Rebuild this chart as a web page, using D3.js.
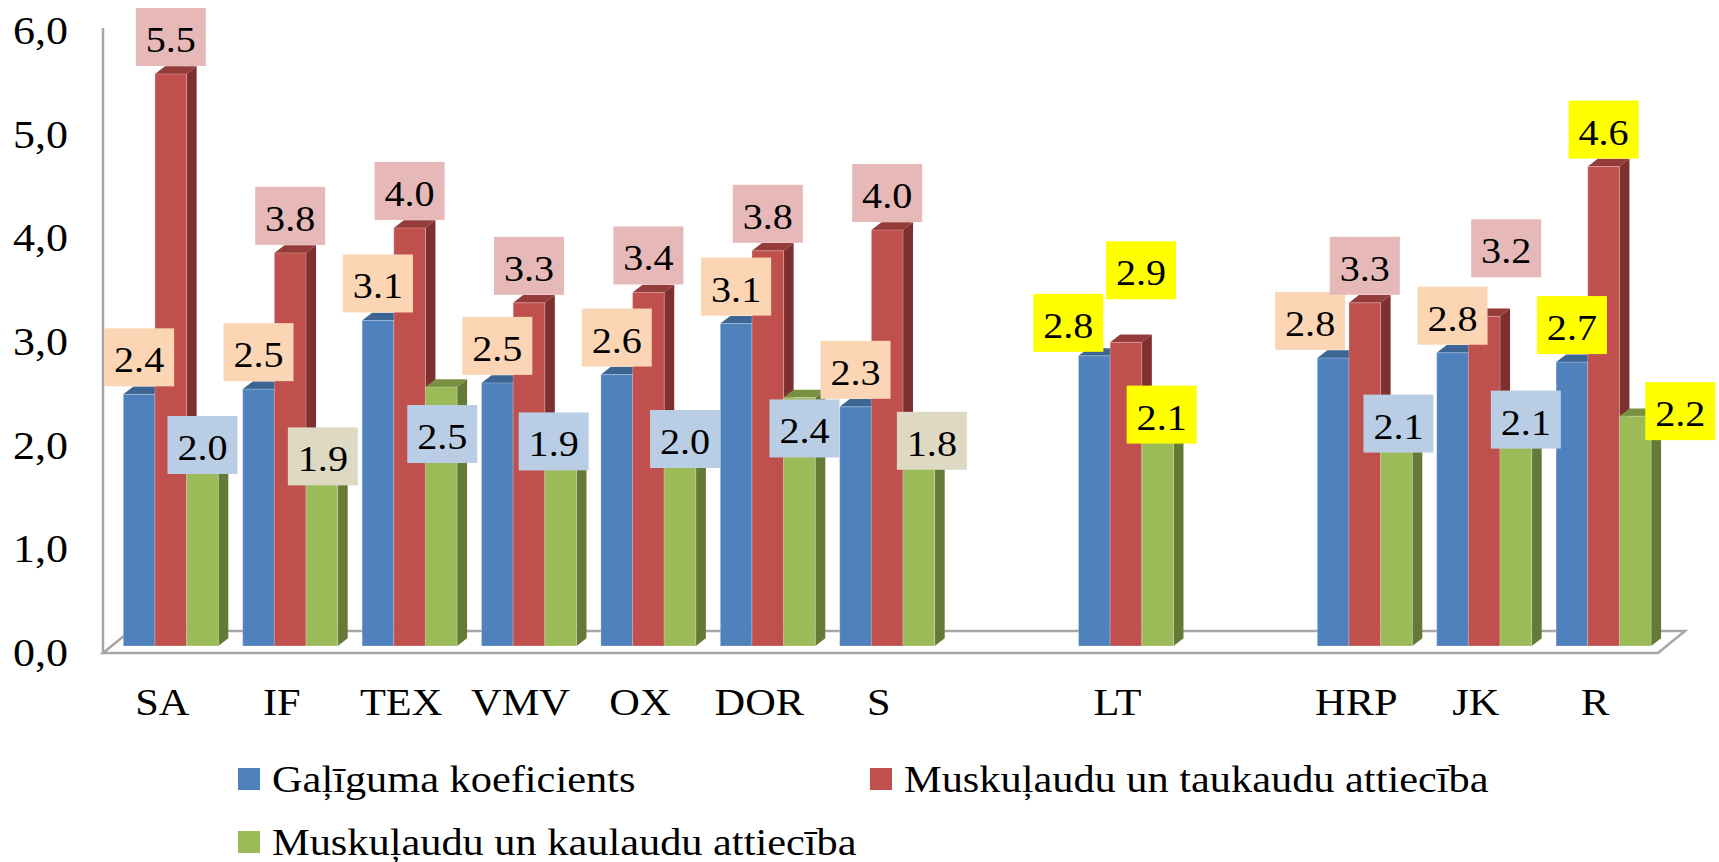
<!DOCTYPE html>
<html>
<head>
<meta charset="utf-8">
<script src="https://cdn.jsdelivr.net/npm/d3@7.9.0/dist/d3.min.js"></script>
<style>
  html, body { margin: 0; padding: 0; background: #fff; }
  svg { display: block; font-family: "Liberation Serif", "Times New Roman", serif; }
</style>
</head>
<body>
<svg id="chart" width="1719" height="862"></svg>
<script>
// categories, null = empty slot on the axis
const categories = ['SA', 'IF', 'TEX', 'VMV', 'OX', 'DOR', 'S', null, 'LT', null, 'HRP', 'JK', 'R'];

const galigums = [2.42, 2.47, 3.13, 2.53, 2.61, 3.10, 2.30, null, 2.79, null, 2.77, 2.82, 2.73];
const taukaudi = [5.50, 3.78, 4.02, 3.30, 3.40, 3.80, 4.00, null, 2.92, null, 3.30, 3.17, 4.61];
const kaulaudi = [2.00, 1.90, 2.49, 1.90, 2.00, 2.39, 1.80, null, 2.10, null, 2.10, 2.10, 2.21];

const seriesNames = [
  'Gaļīguma koeficients',
  'Muskuļaudu un taukaudu attiecība',
  'Muskuļaudu un kaulaudu attiecība'
];
const yTicks = [0, 1, 2, 3, 4, 5, 6];

const yellowCats = ['LT', 'R'];
const beigeCats = ['IF', 'S'];

// labels that were dragged away from the default spot, [dx, dy] in px
const labelNudge = [
  { LT: [-26, 4], HRP: [-23, 0] },
  { LT: [15, -35], JK: [22, -31] },
  { SA: [0, 44], IF: [1, 45], TEX: [1, 84], VMV: [-7, 30], OX: [5, 38], DOR: [5, 68],
    S: [13, 19], LT: [4, 24], HRP: [2, 33], JK: [10, 29], R: [45, 32] }
];

const faces = [
  { front: '#4F81BD', top: '#3D6593', side: '#345784' },
  { front: '#C0504D', top: '#953B39', side: '#7D302F' },
  { front: '#9BBB59', top: '#77913E', side: '#657A37' }
];
const labelFills = ['#FCD5B5', '#E6B9B8', '#B9CDE5'];

const values = [galigums, taukaudi, kaulaudi];
const svg = d3.select('#chart');
const sx = 1.1; // the original chart is stretched sideways

const x = d3.scaleBand()
  .domain(d3.range(categories.length))
  .range([111.1, 1663.3])
  .paddingInner(0.2044)
  .paddingOuter(0.1022);
const xInner = d3.scaleBand().domain([0, 1, 2]).range([0, x.bandwidth()]);
const yBar = d3.scaleLinear().domain([0, 6]).range([646, 22]);
const yAxis = d3.scaleLinear().domain([0, 6]).range([653, 31]);

const depth = [10, -7.7];
const floorDepth = [27, -22];
const floorLeft = 103, floorRight = 1658;
const gray = '#A6A6A6';

function place(sel, px, py) {
  return sel.attr('transform', `translate(${px},${py}) scale(${sx},1)`);
}

// floor and wall edge
const fy = yAxis(0);
svg.append('path')
  .attr('d', `M${floorLeft},${fy} L${floorRight},${fy} L${floorRight + floorDepth[0]},${fy + floorDepth[1]}
    L${floorLeft + floorDepth[0]},${fy + floorDepth[1]} Z`)
  .attr('fill', 'none')
  .attr('stroke', gray)
  .attr('stroke-width', 2.5);
svg.append('line')
  .attr('x1', floorLeft).attr('x2', floorLeft)
  .attr('y1', yAxis(6) - 3).attr('y2', fy)
  .attr('stroke', gray)
  .attr('stroke-width', 2.5);

// y tick labels
const fmt = d3.formatLocale({ decimal: ',', thousands: ' ', grouping: [3], currency: ['', ''] }).format('.1f');
yTicks.forEach((t) => {
  place(svg.append('text'), 68, yAxis(t) + 13)
    .attr('text-anchor', 'end')
    .attr('font-size', 40)
    .text(fmt(t));
});

// bars
const base = yBar(0);
categories.forEach((cat, i) => {
  if (cat === null) return;
  values.forEach((vals, s) => {
    const v = vals[i];
    const x0 = x(i) + xInner(s);
    const w = xInner.bandwidth();
    const yt = yBar(v);
    const [dx, dy] = depth;
    const g = svg.append('g');
    g.append('path')
      .attr('d', `M${x0 + w},${yt} L${x0 + w + dx},${yt + dy} L${x0 + w + dx},${base + dy} L${x0 + w},${base} Z`)
      .attr('fill', faces[s].side);
    g.append('path')
      .attr('d', `M${x0},${yt} L${x0 + w},${yt} L${x0 + w + dx},${yt + dy} L${x0 + dx},${yt + dy} Z`)
      .attr('fill', faces[s].top);
    g.append('rect')
      .attr('x', x0).attr('y', yt)
      .attr('width', w).attr('height', base - yt)
      .attr('fill', faces[s].front)
      .attr('stroke', 'rgba(255,255,255,0.25)')
      .attr('stroke-width', 1);
  });
});

// category labels
categories.forEach((cat, i) => {
  if (cat === null) return;
  place(svg.append('text'), x(i) + x.bandwidth() / 2 - 8.5, 715)
    .attr('text-anchor', 'middle')
    .attr('font-size', 38.5)
    .text(cat);
});

// data labels
const fmtLabel = d3.format('.1f');
values.forEach((vals, s) => {
  categories.forEach((cat, i) => {
    if (cat === null) return;
    const v = vals[i];
    const nudge = labelNudge[s][cat] || [0, 0];
    const cx = x(i) + xInner(s) + xInner.bandwidth() / 2 + nudge[0];
    const bottom = yBar(v) - 8 + nudge[1];
    let fill = labelFills[s];
    if (s === 2 && beigeCats.includes(cat)) fill = '#DDD9C3';
    if (yellowCats.includes(cat)) fill = '#FFFF00';
    svg.append('rect')
      .attr('x', cx - 35).attr('y', bottom - 58)
      .attr('width', 70).attr('height', 58)
      .attr('fill', fill);
    place(svg.append('text'), cx, bottom - 14)
      .attr('text-anchor', 'middle')
      .attr('font-size', 36.5)
      .text(fmtLabel(v));
  });
});

// legend
const legendPos = [[238, 768], [870, 768], [238, 831]];
seriesNames.forEach((name, s) => {
  const [lx, ly] = legendPos[s];
  svg.append('rect')
    .attr('x', lx).attr('y', ly)
    .attr('width', 22).attr('height', 22)
    .attr('fill', faces[s].front);
  place(svg.append('text'), lx + 34, ly + 23.5)
    .attr('font-size', 38.5)
    .text(name);
});
</script>
</body>
</html>
